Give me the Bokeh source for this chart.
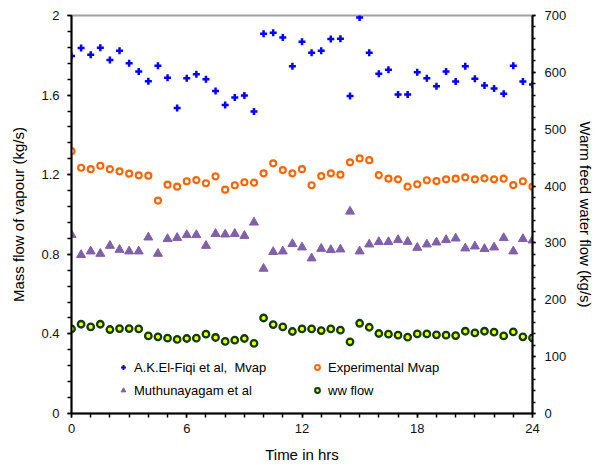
from bokeh.plotting import figure
from bokeh.models import (Range1d, LinearAxis, SingleIntervalTicker, CustomJSTickFormatter,
                          Legend, LegendItem, ColumnDataSource)
from bokeh.embed import file_html
from bokeh.resources import INLINE

time_hrs = [i * 0.5 for i in range(49)]

elfiqi_mvap = [1.797, 1.837, 1.803, 1.838, 1.777, 1.823, 1.76, 1.718, 1.67, 1.748,
               1.687, 1.535, 1.685, 1.705, 1.68, 1.62, 1.55, 1.588, 1.598, 1.518,
               1.908, 1.913, 1.89, 1.745, 1.868, 1.813, 1.823, 1.882, 1.883, 1.595,
               1.99, 1.813, 1.707, 1.727, 1.603, 1.603, 1.715, 1.685, 1.645, 1.718,
               1.668, 1.745, 1.682, 1.648, 1.633, 1.607, 1.747, 1.668, 1.653]

experimental_mvap = [1.318, 1.235, 1.228, 1.245, 1.228, 1.217, 1.205, 1.197, 1.195, 1.07,
                     1.15, 1.14, 1.167, 1.173, 1.157, 1.192, 1.125, 1.147, 1.162, 1.16,
                     1.207, 1.257, 1.223, 1.207, 1.228, 1.147, 1.193, 1.207, 1.2, 1.262,
                     1.282, 1.273, 1.198, 1.18, 1.177, 1.14, 1.152, 1.172, 1.168, 1.177,
                     1.18, 1.187, 1.177, 1.182, 1.177, 1.18, 1.148, 1.167, 1.14]

muthunayagam = [0.898, 0.797, 0.815, 0.803, 0.843, 0.823, 0.815, 0.815, 0.885, 0.803,
                0.877, 0.883, 0.897, 0.897, 0.843, 0.903, 0.9, 0.903, 0.893, 0.96,
                0.728, 0.812, 0.815, 0.852, 0.835, 0.78, 0.828, 0.822, 0.825, 1.015,
                0.815, 0.85, 0.862, 0.862, 0.872, 0.863, 0.833, 0.85, 0.86, 0.872,
                0.88, 0.83, 0.84, 0.827, 0.835, 0.882, 0.815, 0.877, 0.87]

ww_flow = [148.8, 157, 152.3, 157, 147.7, 149.4, 149.4, 148.8, 136.5, 134.8,
           132.5, 130.2, 131.9, 132.5, 139.5, 133.7, 126.7, 129, 131.9, 123.2,
           168, 156.4, 152.3, 144.2, 148.8, 148.8, 145.9, 148.8, 146.5, 126,
           158.7, 151.7, 140.7, 139.5, 137.7, 134.2, 140, 140, 138.3, 137.7,
           137.1, 144.7, 141.8, 144.7, 143, 136.5, 143.5, 134.8, 133]

src = ColumnDataSource(dict(t=time_hrs, a=elfiqi_mvap, e=experimental_mvap,
                            m=muthunayagam, w=ww_flow))
nan = float("nan")
legend_src = ColumnDataSource(dict(x=[nan], y=[nan]))

FONT = "Liberation Sans"
BLUE, ORANGE, PURPLE, GREEN, YELLOW = "#0000ff", "#ff6600", "#8060a8", "#0d3d0d", "#ffff00"

p = figure(width=597, height=469, output_backend="svg", toolbar_location=None,
           x_range=Range1d(0, 24), y_range=Range1d(0, 2),
           min_border_left=71, min_border_right=63, min_border_top=15, min_border_bottom=56)
p.extra_y_ranges = {"right": Range1d(0, 700)}
p.xgrid.visible = False
p.ygrid.visible = False
p.outline_line_color = "#a0a0a0"
p.outline_line_width = 2
p.background_fill_color = "white"
p.border_fill_color = "white"

p.scatter("t", "a", source=src, marker="cross", size=7, line_width=2.5, line_color=BLUE)
p.scatter("t", "e", source=src, marker="circle", size=6, line_width=2.2,
          line_color=ORANGE, fill_color="white")
p.scatter("t", "m", source=src, marker="triangle", size=9, line_width=1,
          line_color=PURPLE, fill_color=PURPLE)
p.scatter("t", "w", source=src, marker="circle", size=6.5, line_width=2.3,
          line_color=GREEN, fill_color=YELLOW, y_range_name="right")

# legend-only renderers (smaller glyphs, as in the reference legend)
l_a = p.scatter("x", "y", source=legend_src, marker="cross", size=6, line_width=2,
                line_color=BLUE)
l_e = p.scatter("x", "y", source=legend_src, marker="circle", size=5, line_width=2,
                line_color=ORANGE, fill_color="white")
l_m = p.scatter("x", "y", source=legend_src, marker="triangle", size=8, line_width=1,
                line_color=PURPLE, fill_color=PURPLE)
l_w = p.scatter("x", "y", source=legend_src, marker="circle", size=5, line_width=2,
                line_color=GREEN, fill_color=YELLOW)

fmt = CustomJSTickFormatter(code="return String(Number(tick.toFixed(3)));")

def style(ax, label):
    ax.axis_label = label
    ax.axis_label_text_font = FONT
    ax.axis_label_text_font_size = "15px"
    ax.axis_label_text_font_style = "normal"
    ax.axis_label_text_color = "black"
    ax.major_label_text_font = FONT
    ax.major_label_text_font_size = "13px"
    ax.major_label_text_color = "#111111"
    ax.axis_line_color = "black"
    ax.axis_line_width = 2
    ax.major_tick_line_color = "black"
    ax.minor_tick_line_color = "black"
    ax.major_tick_line_width = 1.5
    ax.minor_tick_line_width = 1.5
    ax.major_tick_out = 4
    ax.major_tick_in = 0
    ax.minor_tick_out = 4
    ax.minor_tick_in = 0
    ax.formatter = fmt

xa = p.xaxis[0]
xa.ticker = SingleIntervalTicker(interval=6, num_minor_ticks=6)
style(xa, "Time in hrs")
xa.major_label_standoff = 6
xa.axis_label_standoff = 10

ya = p.yaxis[0]
ya.ticker = SingleIntervalTicker(interval=0.4, num_minor_ticks=5)
style(ya, "Mass flow of vapour (kg/s)")
ya.major_label_standoff = 8
ya.axis_label_standoff = 11

ra = LinearAxis(y_range_name="right")
ra.ticker = SingleIntervalTicker(interval=100, num_minor_ticks=5)
style(ra, "Warm feed water flow (kg/s)")
ra.major_tick_out = 3
ra.minor_tick_out = 3
ra.major_label_standoff = 9
ra.axis_label_standoff = 8
p.add_layout(ra, "right")

def mk_legend(items, loc):
    lg = Legend(items=items, location=loc, orientation="vertical",
                padding=0, margin=0, spacing=7, glyph_width=12, glyph_height=16,
                label_height=16, label_standoff=5,
                label_text_font=FONT, label_text_font_size="13px",
                label_text_color="black",
                background_fill_alpha=0, border_line_alpha=0)
    p.add_layout(lg, "center")

mk_legend([LegendItem(label="A.K.El-Fiqi et al,  Mvap", renderers=[l_a]),
           LegendItem(label="Muthunayagam et al", renderers=[l_m])], (46, 15))
mk_legend([LegendItem(label="Experimental Mvap", renderers=[l_e]),
           LegendItem(label="ww flow", renderers=[l_w])], (240, 15))

open("out.html", "w").write(file_html(p, INLINE))
